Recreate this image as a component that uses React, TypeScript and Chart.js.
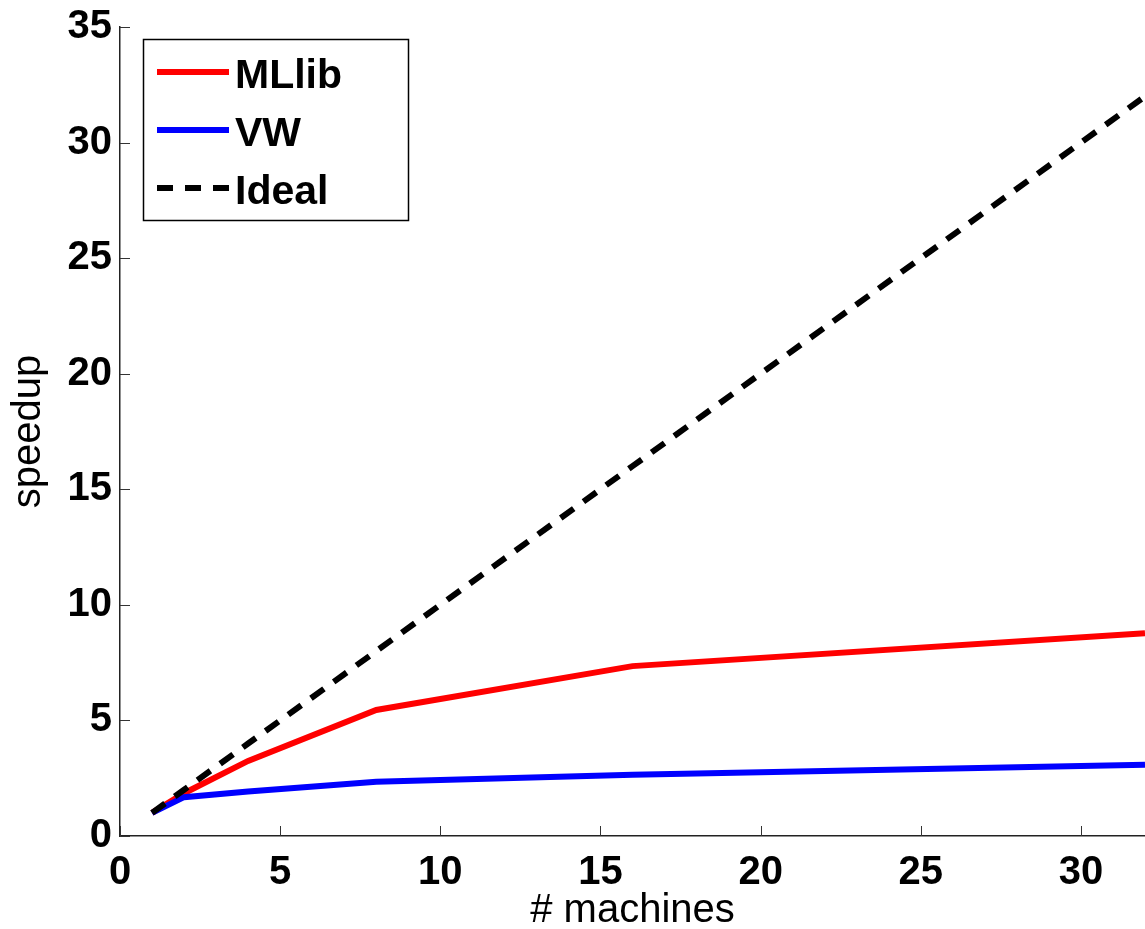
import React, { useEffect, useRef } from "react";
import { Chart, registerables } from "chart.js";

Chart.register(...registerables);

const machines = [1, 2, 4, 8, 16, 32];
const mllibSpeedup = [1, 1.85, 3.25, 5.45, 7.35, 8.77];
const vwSpeedup = [1, 1.68, 1.93, 2.35, 2.65, 3.08];
const idealSpeedup = [1, 2, 4, 8, 16, 32];
const seriesLabels = ["MLlib", "VW", "Ideal"];
const xTickValues = [0, 5, 10, 15, 20, 25, 30];
const yTickValues = [0, 5, 10, 15, 20, 25, 30, 35];

const FONT = "'Liberation Sans', Arial, Helvetica, sans-serif";

const toPoints = (ys: number[]) => machines.map((x, i) => ({ x, y: ys[i] }));

const inwardTicks = {
  id: "inwardTicks",
  afterDraw(chart: any) {
    const { ctx, chartArea, scales } = chart;
    ctx.save();
    ctx.strokeStyle = "#333";
    ctx.lineWidth = 1;
    const len = 10;
    for (const v of xTickValues) {
      const x = Math.round(scales.x.getPixelForValue(v)) + 0.5;
      ctx.beginPath();
      ctx.moveTo(x, chartArea.bottom);
      ctx.lineTo(x, chartArea.bottom - len);
      ctx.stroke();
    }
    for (const v of yTickValues) {
      const y = Math.round(scales.y.getPixelForValue(v)) + 0.5;
      ctx.beginPath();
      ctx.moveTo(chartArea.left, y);
      ctx.lineTo(chartArea.left + len, y);
      ctx.stroke();
    }
    ctx.restore();
  },
};

const boxedLegend = {
  id: "boxedLegend",
  afterDraw(chart: any) {
    const { ctx, chartArea } = chart;
    const left = chartArea.left + 23;
    const top = chartArea.top + 12;
    const w = 265;
    const h = 181;
    ctx.save();
    ctx.fillStyle = "#fff";
    ctx.fillRect(left, top, w, h);
    ctx.strokeStyle = "#000";
    ctx.lineWidth = 1.5;
    ctx.strokeRect(left + 0.5, top + 0.5, w, h);
    chart.data.datasets.forEach((ds: any, i: number) => {
      const cy = top + 33 + i * 58;
      ctx.beginPath();
      ctx.strokeStyle = ds.borderColor;
      ctx.lineWidth = 6;
      ctx.lineCap = "butt";
      ctx.setLineDash(ds.borderDash || []);
      ctx.moveTo(left + 14, cy);
      ctx.lineTo(left + 86, cy);
      ctx.stroke();
      ctx.setLineDash([]);
      ctx.fillStyle = "#000";
      ctx.font = `bold 41px ${FONT}`;
      ctx.textBaseline = "alphabetic";
      ctx.textAlign = "left";
      ctx.fillText(ds.label, left + 92, cy + 16);
    });
    ctx.restore();
  },
};

export default function App() {
  const canvasRef = useRef<HTMLCanvasElement | null>(null);

  useEffect(() => {
    if (!canvasRef.current) return;
    const chart = new Chart(canvasRef.current, {
      type: "line",
      data: {
        datasets: [
          {
            label: seriesLabels[0],
            data: toPoints(mllibSpeedup),
            borderColor: "#ff0000",
            backgroundColor: "#ff0000",
            borderWidth: 6,
            pointRadius: 0,
            tension: 0,
            order: 2,
          },
          {
            label: seriesLabels[1],
            data: toPoints(vwSpeedup),
            borderColor: "#0000ff",
            backgroundColor: "#0000ff",
            borderWidth: 6,
            pointRadius: 0,
            tension: 0,
            order: 1,
          },
          {
            label: seriesLabels[2],
            data: toPoints(idealSpeedup),
            borderColor: "#000000",
            backgroundColor: "#000000",
            borderWidth: 6,
            borderDash: [16, 12],
            pointRadius: 0,
            tension: 0,
            order: 0,
          },
        ],
      },
      options: {
        animation: false,
        responsive: false,
        layout: { padding: { top: 27, right: 0, left: 0, bottom: 0 } },
        plugins: {
          legend: { display: false },
          tooltip: { enabled: false },
        },
        scales: {
          x: {
            type: "linear",
            min: 0,
            max: 32,
            afterBuildTicks: (scale: any) => {
              scale.ticks = xTickValues.map((v) => ({ value: v }));
            },
            afterFit: (scale: any) => {
              scale.height = 93;
              scale.paddingRight = 0;
            },
            grid: { drawOnChartArea: false, drawTicks: false },
            border: { display: true, color: "#222", width: 1.5 },
            ticks: {
              color: "#000",
              padding: 13,
              maxRotation: 0,
              autoSkip: false,
              font: { family: FONT, size: 40, weight: "bold" },
            },
            title: {
              display: true,
              text: "# machines",
              color: "#000",
              padding: { top: 0, bottom: 0 },
              font: { family: FONT, size: 40, lineHeight: 0.9 },
            },
          },
          y: {
            type: "linear",
            min: 0,
            max: 35,
            afterBuildTicks: (scale: any) => {
              scale.ticks = yTickValues.map((v) => ({ value: v }));
            },
            afterFit: (scale: any) => {
              scale.width = 120;
              scale.paddingTop = 0;
              scale.paddingBottom = 0;
            },
            grid: { drawOnChartArea: false, drawTicks: false },
            border: { display: true, color: "#222", width: 1.5 },
            ticks: {
              color: "#000",
              padding: 8,
              autoSkip: false,
              font: { family: FONT, size: 40, weight: "bold" },
            },
            title: {
              display: true,
              text: "speedup",
              color: "#000",
              padding: { top: 5, bottom: 0 },
              font: { family: FONT, size: 40 },
            },
          },
        },
      },
      plugins: [inwardTicks, boxedLegend],
    });
    return () => chart.destroy();
  }, []);

  return (
    <div style={{ position: "absolute", left: 0, top: 0, width: 1145, height: 929, background: "#fff" }}>
      <canvas ref={canvasRef} width={1145} height={929} style={{ display: "block" }} />
    </div>
  );
}
